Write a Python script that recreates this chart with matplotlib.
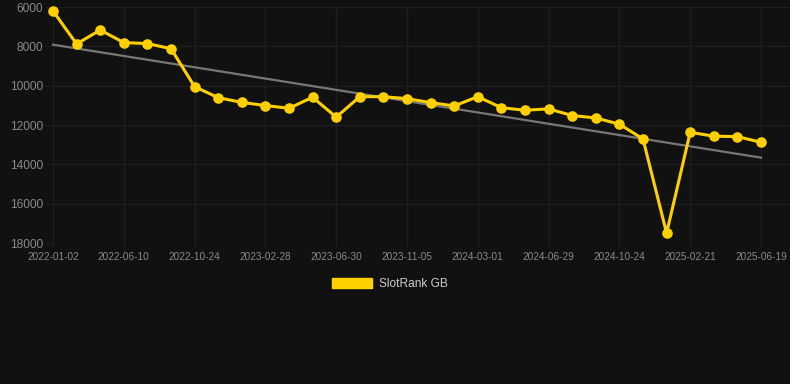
import numpy as np
import matplotlib
matplotlib.use("Agg")
import matplotlib.pyplot as plt

plt.rcParams["font.family"] = ["Liberation Sans", "DejaVu Sans"]

tick_labels = ["2022-01-02", "2022-06-10", "2022-10-24", "2023-02-28", "2023-06-30",
               "2023-11-05", "2024-03-01", "2024-06-29", "2024-10-24", "2025-02-21",
               "2025-06-19"]
ranks = [6200, 7880, 7170, 7810, 7860, 8120, 10050, 10610, 10850, 11010,
         11150, 10590, 11600, 10560, 10560, 10660, 10860, 11030, 10560, 11120,
         11250, 11180, 11520, 11640, 11960, 12710, 17500, 12370, 12570, 12590,
         12880]
series_name = "SlotRank GB"

BG = "#111111"
GRID = "#1e1e1e"
TXT = "#8a8a8a"
YEL = "#ffd000"

fig = plt.figure(figsize=(7.9, 3.84), dpi=100, facecolor=BG)
ax = fig.add_axes([53/790, 1-243/384, 1-53/790, (243-7)/384])
ax.set_facecolor(BG)

x = np.arange(len(ranks))
coef = np.polyfit(x, ranks, 1)
ax.plot(x, np.polyval(coef, x), color="#777777", lw=1.6, zorder=2, clip_on=False)
ax.plot(x, ranks, color=YEL, lw=2.2, marker="o", markersize=6.6, zorder=3,
        clip_on=False, label=series_name)

ax.set_ylim(18000, 6000)
ax.set_yticks([6000, 8000, 10000, 12000, 14000, 16000, 18000])
ax.set_xlim(0, 30 + 29/23.6)
ax.set_xticks(x[::3])
ax.set_xticklabels(tick_labels)

ax.grid(True, color=GRID, lw=1)
ax.set_axisbelow(True)
for s in ax.spines.values():
    s.set_visible(False)
ax.tick_params(axis="y", length=5.8, color=GRID, pad=1.4, labelsize=8.6, labelcolor=TXT)
ax.tick_params(axis="x", length=3, color=GRID, pad=3.5, labelsize=7.2, labelcolor=TXT)

leg = fig.legend(handles=[plt.Rectangle((0, 0), 1, 1, color=YEL)], labels=[series_name],
                 loc="center", bbox_to_anchor=(390/790, 1-284/384), frameon=False,
                 handlelength=3.4, handleheight=1.0, handletextpad=0.6,
                 fontsize=8.6)
for t in leg.get_texts():
    t.set_color("#cccccc")

fig.savefig("out.png", dpi=100, facecolor=BG)
